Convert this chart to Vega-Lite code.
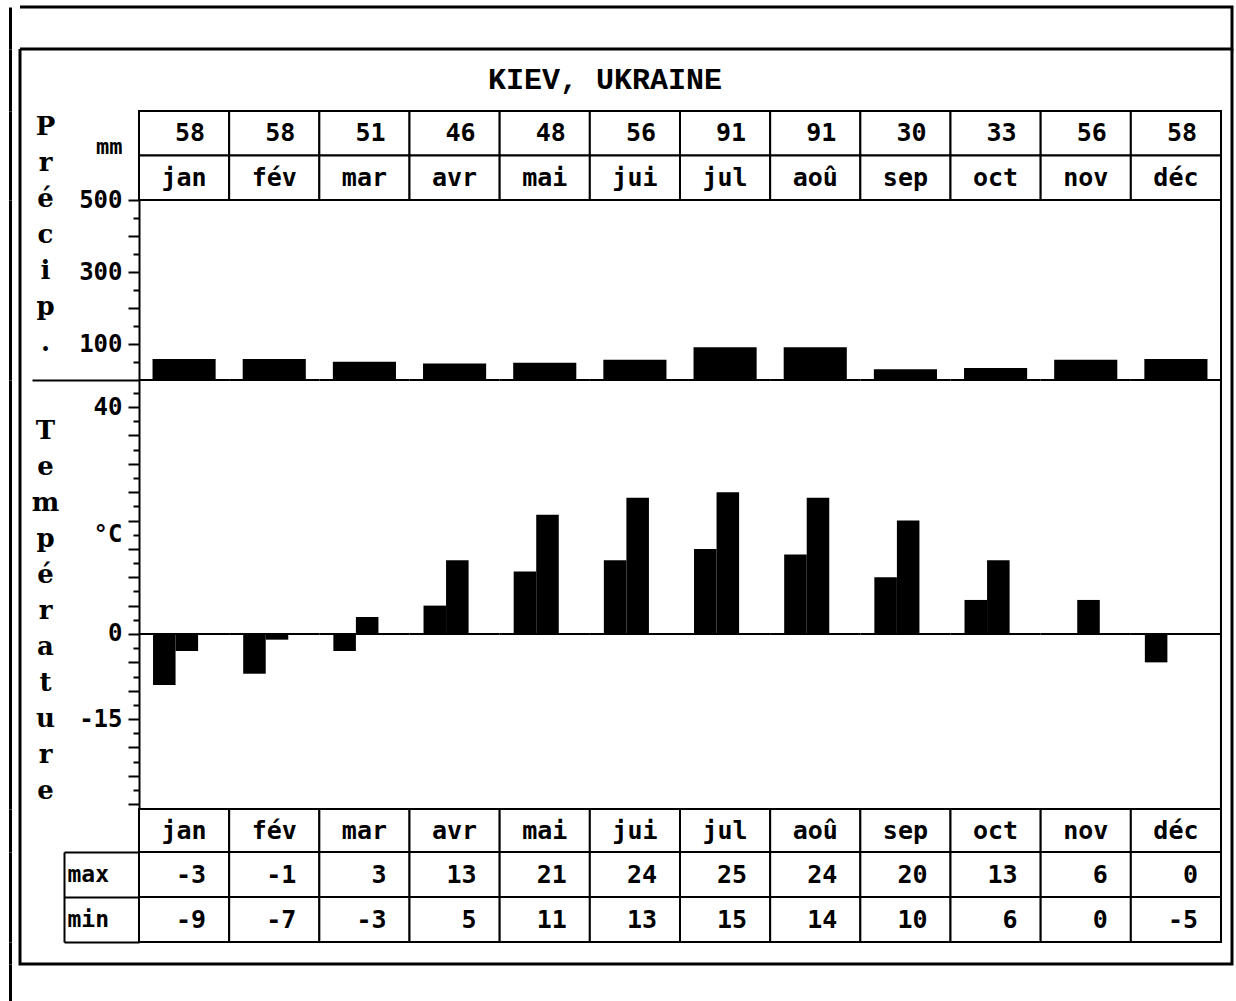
{
  "$schema": "https://vega.github.io/schema/vega-lite/v6.json",
  "padding": {"left": 8, "top": 5, "right": 0, "bottom": 0},
  "background": "white",
  "spacing": 0,
  "bounds": "flush",
  "datasets": {
    "climat": [
      {"mois": "jan", "precip": 58, "tmax": -3, "tmin": -9},
      {"mois": "fév", "precip": 58, "tmax": -1, "tmin": -7},
      {"mois": "mar", "precip": 51, "tmax": 3, "tmin": -3},
      {"mois": "avr", "precip": 46, "tmax": 13, "tmin": 5},
      {"mois": "mai", "precip": 48, "tmax": 21, "tmin": 11},
      {"mois": "jui", "precip": 56, "tmax": 24, "tmin": 13},
      {"mois": "jul", "precip": 91, "tmax": 25, "tmin": 15},
      {"mois": "aoû", "precip": 91, "tmax": 24, "tmin": 14},
      {"mois": "sep", "precip": 30, "tmax": 20, "tmin": 10},
      {"mois": "oct", "precip": 33, "tmax": 13, "tmin": 6},
      {"mois": "nov", "precip": 56, "tmax": 6, "tmin": 0},
      {"mois": "déc", "precip": 58, "tmax": 0, "tmin": -5}
    ]
  },
  "resolve": {"scale": {"x": "independent", "y": "independent"}},
  "config": {
    "view": {"stroke": null},
    "text": {"font": "DejaVu Sans Mono", "fontWeight": "bold", "fontSize": 25, "color": "black"}
  },
  "vconcat": [
    {
      "width": 1212, "height": 42,
      "data": {"name": "climat"},
      "view": {"stroke": "black", "strokeWidth": 3, "strokeDash": [2466, 42]},
      "mark": {"type": "rect", "opacity": 0},
      "encoding": {
        "x": {"field": "mois", "type": "nominal", "sort": null, "scale": {"domain": ["jan","fév","mar","avr","mai","jui","jul","aoû","sep","oct","nov","déc"], "paddingInner": 0, "paddingOuter": 0.72089, "align": 0.91538}, "axis": null},
        "y": {"datum": 0, "type": "quantitative", "scale": {"domain": [0, 1]}, "axis": {"orient": "left", "offset": 10, "domain": true, "domainColor": "black", "domainWidth": 3, "ticks": false, "labels": false, "grid": false, "title": null}}
      }
    },
    {
      "width": 1212, "height": 62,
      "data": {"values": [{"titre": "KIEV, UKRAINE"}]},
      "view": {"stroke": "black", "strokeWidth": 3, "strokeDash": [0, 1212, 62, 1212, 62, 0]},
      "layer": [
        {
          "mark": {"type": "text", "font": "Liberation Mono", "fontSize": 30, "fontWeight": "bold", "dx": -21},
          "encoding": {"text": {"field": "titre", "type": "nominal"}}
        },
        {
          "mark": {"type": "rule", "opacity": 0},
          "encoding": {"y": {"datum": 0, "type": "quantitative", "scale": {"domain": [0, 1]}, "axis": {"orient": "left", "offset": 10, "domain": true, "domainColor": "black", "domainWidth": 3, "ticks": false, "labels": false, "grid": false, "title": null}}}
        }
      ]
    },
    {
      "width": 1212, "height": 89,
      "data": {"name": "climat"},
      "view": {"stroke": "black", "strokeWidth": 3, "strokeDash": [0, 1212, 89, 1212, 89, 0]},
      "resolve": {"axis": {"y": "independent"}},
      "layer": [
        {
          "mark": {"type": "rect", "fill": "white", "stroke": "black", "strokeWidth": 2},
          "encoding": {
            "x": {"field": "mois", "type": "nominal", "sort": null, "scale": {"domain": ["jan","fév","mar","avr","mai","jui","jul","aoû","sep","oct","nov","déc"], "paddingInner": 0, "paddingOuter": 0.72089, "align": 0.91538}, "axis": null},
            "y": {"datum": "p", "type": "nominal", "scale": {"domain": ["p", "m"], "paddingInner": 0, "paddingOuter": 0},
              "axis": {"orient": "left", "offset": -119, "title": null, "domain": false, "ticks": false, "labelExpr": "datum.value === 'p' ? 'mm' : ''", "labelPadding": 17, "labelOffset": 14, "labelFont": "DejaVu Sans Mono", "labelFontSize": 22, "labelFontWeight": "bold", "labelColor": "black"}}
          }
        },
        {
          "mark": {"type": "rect", "fill": "white", "stroke": "black", "strokeWidth": 2},
          "encoding": {
            "x": {"field": "mois", "type": "nominal", "sort": null},
            "y": {"datum": "m", "type": "nominal", "axis": {"orient": "left", "offset": 10, "domain": true, "domainColor": "black", "domainWidth": 3, "ticks": false, "labels": false, "grid": false, "title": null}}
          }
        },
        {
          "mark": {"type": "text", "align": "right", "dx": -24},
          "encoding": {
            "x": {"field": "mois", "type": "nominal", "sort": null, "bandPosition": 1},
            "y": {"datum": "p", "type": "nominal", "axis": null},
            "text": {"field": "precip", "type": "nominal"}
          }
        },
        {
          "mark": {"type": "text"},
          "encoding": {
            "x": {"field": "mois", "type": "nominal", "sort": null},
            "y": {"datum": "m", "type": "nominal", "axis": null},
            "text": {"field": "mois", "type": "nominal"}
          }
        }
      ]
    },
    {
      "width": 1212, "height": 180,
      "data": {"name": "climat"},
      "view": {"stroke": "black", "strokeWidth": 3, "strokeDash": [0, 1212, 180, 1212, 180, 0]},
      "resolve": {"axis": {"y": "independent"}},
      "layer": [
        {
          "mark": {"type": "bar", "color": "black", "width": {"band": 0.7}},
          "encoding": {
            "x": {"field": "mois", "type": "nominal", "sort": null, "scale": {"domain": ["jan","fév","mar","avr","mai","jui","jul","aoû","sep","oct","nov","déc"], "paddingInner": 0, "paddingOuter": 0.72089, "align": 0.91538}, "axis": null},
            "y": {"field": "precip", "type": "quantitative", "scale": {"domain": [0, 500], "nice": false},
              "axis": {
                "orient": "left", "offset": -119, "values": [0, 50, 100, 150, 200, 250, 300, 350, 400, 450, 500],
                "labelOverlap": false, "grid": false, "domain": true, "domainColor": "black", "domainWidth": 2,
                "ticks": true, "tickSize": 107, "tickColor": "black", "tickWidth": 2,
                "tickDash": {"condition": [{"test": "datum.value === 0", "value": []}, {"test": "datum.value % 100 === 0", "value": [11, 200]}], "value": [6, 200]},
                "labelExpr": "datum.value === 100 ? '100' : datum.value === 300 ? '300' : datum.value === 500 ? '500' : ''",
                "labelPadding": -90, "labelFont": "DejaVu Sans Mono", "labelFontSize": 24, "labelFontWeight": "bold", "labelColor": "black",
                "title": ["P", "r", "é", "c", "i", "p", "."], "titleX": -94, "titleY": -66, "titleAngle": 0, "titleAlign": "center", "titleBaseline": "alphabetic", "titleLineHeight": 36,
                "titleFont": "DejaVu Serif", "titleFontSize": 26, "titleFontWeight": "bold", "titleColor": "black"
              }}
          }
        },
        {
          "mark": {"type": "rect", "color": "black", "stroke": "black", "strokeWidth": 2},
          "encoding": {
            "x": {"field": "mois", "type": "nominal", "sort": null},
            "y": {"datum": 0, "axis": null},
            "y2": {"datum": 0}
          }
        },
        {
          "mark": {"type": "rule", "opacity": 0},
          "encoding": {"y": {"datum": 0, "type": "quantitative", "axis": {"orient": "left", "offset": 10, "domain": true, "domainColor": "black", "domainWidth": 3, "ticks": false, "labels": false, "grid": false, "title": null}}}
        },
        {
          "mark": {"type": "rule", "color": "black", "strokeWidth": 2},
          "encoding": {"x": {"datum": "déc", "bandPosition": 1}}
        }
      ]
    },
    {
      "width": 1212, "height": 429,
      "data": {"name": "climat"},
      "view": {"stroke": "black", "strokeWidth": 3, "strokeDash": [0, 1212, 429, 1212, 429, 0]},
      "resolve": {"axis": {"y": "independent"}},
      "layer": [
        {
          "transform": [{"fold": ["tmin", "tmax"], "as": ["type", "t"]}],
          "mark": {"type": "bar", "color": "black"},
          "encoding": {
            "x": {"field": "mois", "type": "nominal", "sort": null, "scale": {"domain": ["jan","fév","mar","avr","mai","jui","jul","aoû","sep","oct","nov","déc"], "paddingInner": 0, "paddingOuter": 0.72089, "align": 0.91538}, "axis": null},
            "xOffset": {"field": "type", "type": "nominal", "scale": {"domain": ["tmin", "tmax"], "paddingInner": 0, "paddingOuter": 1.147, "align": 0.311}},
            "y": {"field": "t", "type": "quantitative", "stack": null, "scale": {"domain": [-30.84, 44.76], "nice": false},
              "axis": {
                "orient": "left", "offset": -119,
                "values": [-30, -27.5, -25, -22.5, -20, -17.5, -15, -12.5, -10, -7.5, -5, -2.5, 0, 2.5, 5, 7.5, 10, 12.5, 15, 17.5, 20, 22.5, 25, 27.5, 30, 32.5, 35, 37.5, 40, 42.5],
                "labelOverlap": false, "grid": false, "domain": true, "domainColor": "black", "domainWidth": 2,
                "ticks": true, "tickSize": 11, "tickColor": "black", "tickWidth": 2,
                "tickDash": {"condition": {"test": "datum.value % 5 !== 0", "value": [6, 30]}, "value": []},
                "labelExpr": "datum.value === 40 ? '40' : datum.value === 0 ? '0' : datum.value === -15 ? '-15' : datum.value === 17.5 ? '°C\u00a0' : ''",
                "labelPadding": 6, "labelFont": "DejaVu Sans Mono", "labelFontSize": 24, "labelFontWeight": "bold", "labelColor": "black",
                "title": ["T", "e", "m", "p", "é", "r", "a", "t", "u", "r", "e"], "titleX": -94, "titleY": 58, "titleAngle": 0, "titleAlign": "center", "titleBaseline": "alphabetic", "titleLineHeight": 36,
                "titleFont": "DejaVu Serif", "titleFontSize": 26, "titleFontWeight": "bold", "titleColor": "black"
              }}
          }
        },
        {
          "mark": {"type": "rect", "color": "black", "stroke": "black", "strokeWidth": 2},
          "encoding": {
            "x": {"field": "mois", "type": "nominal", "sort": null},
            "y": {"datum": 0, "axis": null},
            "y2": {"datum": 0}
          }
        },
        {
          "mark": {"type": "rule", "opacity": 0},
          "encoding": {"y": {"datum": 0, "type": "quantitative", "axis": {"orient": "left", "offset": 10, "domain": true, "domainColor": "black", "domainWidth": 3, "ticks": false, "labels": false, "grid": false, "title": null}}}
        },
        {
          "mark": {"type": "rule", "color": "black", "strokeWidth": 2},
          "encoding": {"x": {"datum": "déc", "bandPosition": 1}}
        }
      ]
    },
    {
      "width": 1212, "height": 43,
      "data": {"name": "climat"},
      "view": {"stroke": "black", "strokeWidth": 3, "strokeDash": [0, 1212, 43, 1212, 43, 0]},
      "layer": [
        {
          "mark": {"type": "rect", "fill": "white", "stroke": "black", "strokeWidth": 2},
          "encoding": {"x": {"field": "mois", "type": "nominal", "sort": null, "scale": {"domain": ["jan","fév","mar","avr","mai","jui","jul","aoû","sep","oct","nov","déc"], "paddingInner": 0, "paddingOuter": 0.72089, "align": 0.91538}, "axis": null}}
        },
        {
          "mark": {"type": "text"},
          "encoding": {"x": {"field": "mois", "type": "nominal", "sort": null}, "text": {"field": "mois", "type": "nominal"}}
        },
        {
          "mark": {"type": "rule", "opacity": 0},
          "encoding": {"y": {"datum": 0, "type": "quantitative", "scale": {"domain": [0, 1]}, "axis": {"orient": "left", "offset": 10, "domain": true, "domainColor": "black", "domainWidth": 3, "ticks": false, "labels": false, "grid": false, "title": null}}}
        }
      ]
    },
    {
      "width": 1212, "height": 90,
      "data": {"name": "climat"},
      "transform": [{"fold": ["tmax", "tmin"], "as": ["row", "t"]}],
      "view": {"stroke": "black", "strokeWidth": 3, "strokeDash": [0, 1212, 90, 1212, 90, 0]},
      "resolve": {"axis": {"y": "independent"}},
      "layer": [
        {
          "mark": {"type": "rect", "fill": "white", "stroke": "black", "strokeWidth": 2},
          "encoding": {
            "x": {"field": "mois", "type": "nominal", "sort": null, "scale": {"domain": ["jan","fév","mar","avr","mai","jui","jul","aoû","sep","oct","nov","déc"], "paddingInner": 0, "paddingOuter": 0.72089, "align": 0.91538}, "axis": null},
            "y": {"field": "row", "type": "nominal", "scale": {"domain": ["tmax", "tmin"], "paddingInner": 0, "paddingOuter": 0},
              "axis": {"orient": "left", "offset": -44, "title": null, "domain": true, "domainColor": "black", "domainWidth": 2, "ticks": true, "tickBand": "extent", "tickSize": -75, "tickColor": "black", "tickWidth": 2,
                "labelExpr": "datum.value === 'tmax' ? 'max' : datum.value === 'tmin' ? 'min' : ''", "labelAlign": "left", "labelPadding": 72, "labelFont": "DejaVu Sans Mono", "labelFontSize": 23, "labelFontWeight": "bold", "labelColor": "black"}}
          }
        },
        {
          "mark": {"type": "text", "align": "right", "dx": -23},
          "encoding": {
            "x": {"field": "mois", "type": "nominal", "sort": null, "bandPosition": 1},
            "y": {"field": "row", "type": "nominal", "axis": {"orient": "left", "offset": 10, "domain": true, "domainColor": "black", "domainWidth": 3, "ticks": false, "labels": false, "grid": false, "title": null}},
            "text": {"field": "t", "type": "nominal"}
          }
        }
      ]
    },
    {
      "width": 1212, "height": 22,
      "data": {"name": "climat"},
      "view": {"stroke": "black", "strokeWidth": 3, "strokeDash": [0, 1212, 1256, 0]},
      "mark": {"type": "rect", "opacity": 0},
      "encoding": {
        "x": {"field": "mois", "type": "nominal", "sort": null, "scale": {"domain": ["jan","fév","mar","avr","mai","jui","jul","aoû","sep","oct","nov","déc"], "paddingInner": 0, "paddingOuter": 0.72089, "align": 0.91538}, "axis": null},
        "y": {"datum": 0, "type": "quantitative", "scale": {"domain": [0, 1]}, "axis": {"orient": "left", "offset": 10, "domain": true, "domainColor": "black", "domainWidth": 3, "ticks": false, "labels": false, "grid": false, "title": null}}
      }
    },
    {
      "width": 1212, "height": 38,
      "data": {"name": "climat"},
      "mark": {"type": "rect", "opacity": 0},
      "encoding": {
        "x": {"field": "mois", "type": "nominal", "sort": null, "scale": {"domain": ["jan","fév","mar","avr","mai","jui","jul","aoû","sep","oct","nov","déc"], "paddingInner": 0, "paddingOuter": 0.72089, "align": 0.91538}, "axis": null},
        "y": {"datum": 0, "type": "quantitative", "scale": {"domain": [0, 1]}, "axis": {"orient": "left", "offset": 10, "domain": true, "domainColor": "black", "domainWidth": 3, "ticks": false, "labels": false, "grid": false, "title": null}}
      }
    }
  ]
}
